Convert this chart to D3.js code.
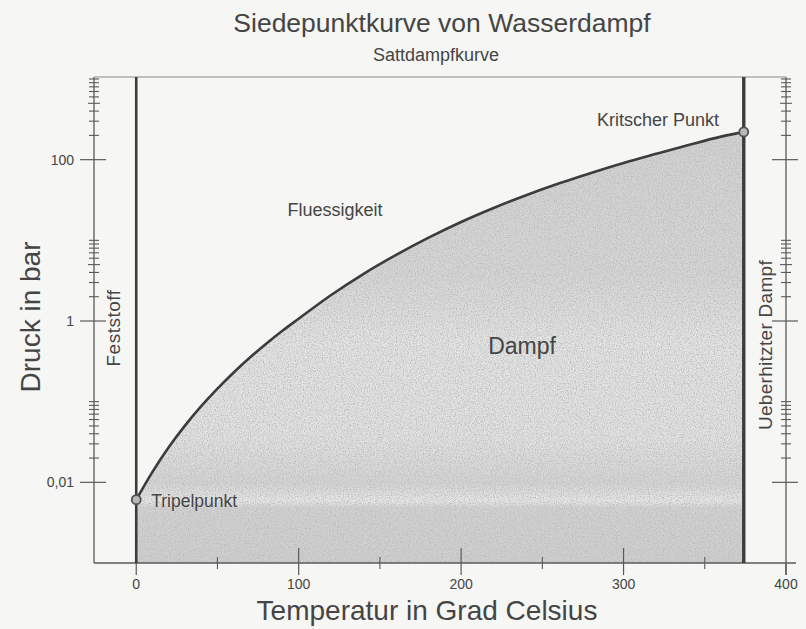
<!DOCTYPE html>
<html>
<head>
<meta charset="utf-8">
<script src="https://cdn.jsdelivr.net/npm/d3@7"></script>
<style>
  html, body { margin: 0; padding: 0; background: #f6f6f4; }
  svg { display: block; font-family: "Liberation Sans", Arial, Helvetica, sans-serif; }
</style>
</head>
<body>
<svg width="806" height="629"></svg>
<script>
// data
var temps = [0, 10, 20, 30, 40, 50, 60, 70, 80, 90, 100, 120, 140, 160, 180, 200, 220, 240, 260, 280, 300, 320, 340, 360, 374];
var pressures = [0.0061, 0.0135, 0.0272, 0.0505, 0.0878, 0.145, 0.23, 0.352, 0.523, 0.756, 1.067, 2.1, 3.85, 6.6, 10.8, 16.9, 25.2, 36.2, 50.5, 68.5, 91, 118, 152, 193, 221];
var xTicksMajor = [0, 100, 200, 300, 400];
var xTicksMinor = [50, 150, 250, 350];
var yTicksMajor = [100, 1, 0.01];
var yTickLabels = ["100", "1", "0,01"];
var minorDecades = [0.01, 1, 100];
var triplePoint = {t: 0, p: 0.0061};
var criticalPoint = {t: 374, p: 221};

var svg = d3.select("svg"),
    ink = "#454545";

var x = d3.scaleLinear().domain([-26, 400]).range([94, 786]);
var y = d3.scaleLog().domain([0.001, 1000]).range([563, 79]);

// grainy scan-like fill
var defs = svg.append("defs");
var grad = defs.append("linearGradient")
    .attr("id", "shade").attr("gradientUnits", "userSpaceOnUse")
    .attr("x1", 0).attr("y1", 120).attr("x2", 0).attr("y2", 563);
[[0, "#d2d2d2"], [0.35, "#d6d6d6"], [0.5, "#e4e4e4"], [0.72, "#e2e2e2"], [0.82, "#d4d4d4"], [0.86, "#e8e8e8"], [0.875, "#d2d2d2"], [1, "#cfcfcf"]]
  .forEach(function(s) { grad.append("stop").attr("offset", s[0]).attr("stop-color", s[1]); });

var f = defs.append("filter").attr("id", "grain").attr("x", 0).attr("y", 0).attr("width", 1).attr("height", 1);
f.append("feTurbulence").attr("type", "fractalNoise").attr("baseFrequency", 0.85).attr("numOctaves", 2).attr("seed", 4).attr("result", "noise");
f.append("feColorMatrix").attr("in", "noise").attr("type", "matrix")
  .attr("values", "0 0 0 0 0.5  0 0 0 0 0.5  0 0 0 0 0.5  2.4 0 0 0 -0.95").attr("result", "dots");
f.append("feComposite").attr("in", "dots").attr("in2", "SourceGraphic").attr("operator", "in").attr("result", "clipped");
var merge = f.append("feMerge");
merge.append("feMergeNode").attr("in", "SourceGraphic");
merge.append("feMergeNode").attr("in", "clipped");

var pts = temps.map(function(t, i) { return [t, pressures[i]]; });

// vapour area under the curve
var area = d3.area()
    .x(function(d) { return x(d[0]); })
    .y0(y(0.001))
    .y1(function(d) { return y(d[1]); })
    .curve(d3.curveMonotoneX);

svg.append("path")
    .datum(pts)
    .attr("d", area)
    .attr("fill", "url(#shade)")
    .attr("filter", "url(#grain)");

// frame
var axisColor = "#5a5a5a";
svg.append("line").attr("x1", x(-26)).attr("x2", x(-26)).attr("y1", y(1000) - 2).attr("y2", y(0.001))
    .attr("stroke", axisColor).attr("stroke-width", 1.3);
svg.append("line").attr("x1", x(400)).attr("x2", x(400)).attr("y1", y(1000) - 2).attr("y2", y(0.001) + 12)
    .attr("stroke", axisColor).attr("stroke-width", 1.3);
svg.append("line").attr("x1", x(-26)).attr("x2", x(400) + 10).attr("y1", y(0.001)).attr("y2", y(0.001))
    .attr("stroke", axisColor).attr("stroke-width", 1.3);
svg.append("line").attr("x1", x(-26)).attr("x2", x(400)).attr("y1", y(1000) - 2).attr("y2", y(1000) - 2)
    .attr("stroke", "#8a8a8a").attr("stroke-width", 1);

// y ticks on both sides
var minorVals = [];
minorDecades.forEach(function(b) {
  d3.range(2, 11).forEach(function(k) { minorVals.push(b * k); });
});

[x(-26), x(400)].forEach(function(ax) {
  svg.append("g").selectAll("line")
    .data(minorVals)
    .enter().append("line")
      .attr("x1", function(d) { return ax - (String(d).indexOf("5") === 0 ? 6 : 5); })
      .attr("x2", function(d) { return ax + (String(d).indexOf("5") === 0 ? 6 : 5); })
      .attr("y1", function(d) { return y(d); })
      .attr("y2", function(d) { return y(d); })
      .attr("stroke", axisColor).attr("stroke-width", 1.1);

  svg.append("g").selectAll("line")
    .data(yTicksMajor)
    .enter().append("line")
      .attr("x1", ax - 14).attr("x2", ax + 12)
      .attr("y1", function(d) { return y(d); })
      .attr("y2", function(d) { return y(d); })
      .attr("stroke", axisColor).attr("stroke-width", 1.2);
});

svg.append("g").selectAll("text")
  .data(yTicksMajor)
  .enter().append("text")
    .attr("x", x(-26) - 20)
    .attr("y", function(d) { return y(d) + 5; })
    .attr("text-anchor", "end")
    .attr("font-size", 14)
    .attr("fill", ink)
    .text(function(d, i) { return yTickLabels[i]; });

// x ticks
svg.append("g").selectAll("line")
  .data(xTicksMajor)
  .enter().append("line")
    .attr("x1", function(d) { return x(d); })
    .attr("x2", function(d) { return x(d); })
    .attr("y1", function(d) { return d === 0 || d === 400 ? y(0.001) : y(0.001) - 15; })
    .attr("y2", y(0.001) + 12)
    .attr("stroke", axisColor).attr("stroke-width", 1.2);

svg.append("g").selectAll("line")
  .data(xTicksMinor)
  .enter().append("line")
    .attr("x1", function(d) { return x(d); })
    .attr("x2", function(d) { return x(d); })
    .attr("y1", y(0.001) - 6)
    .attr("y2", y(0.001) + 6)
    .attr("stroke", axisColor).attr("stroke-width", 1.1);

svg.append("g").selectAll("text")
  .data(xTicksMajor)
  .enter().append("text")
    .attr("x", function(d) { return x(d); })
    .attr("y", 589)
    .attr("text-anchor", "middle")
    .attr("font-size", 14)
    .attr("fill", ink)
    .text(function(d) { return d; });

// phase borders
svg.append("line")
    .attr("x1", x(0)).attr("x2", x(0))
    .attr("y1", y(1000) - 2).attr("y2", y(0.001))
    .attr("stroke", "#3c3c3c").attr("stroke-width", 2.6);
svg.append("line")
    .attr("x1", x(criticalPoint.t)).attr("x2", x(criticalPoint.t))
    .attr("y1", y(1000) - 2).attr("y2", y(0.001))
    .attr("stroke", "#3c3c3c").attr("stroke-width", 3.4);

var line = d3.line()
    .x(function(d) { return x(d[0]); })
    .y(function(d) { return y(d[1]); })
    .curve(d3.curveMonotoneX);

svg.append("path")
    .datum(pts)
    .attr("d", line)
    .attr("fill", "none")
    .attr("stroke", "#3c3c3c")
    .attr("stroke-width", 2.6);

svg.selectAll("circle.pt")
  .data([triplePoint, criticalPoint])
  .enter().append("circle")
    .attr("class", "pt")
    .attr("cx", function(d) { return x(d.t); })
    .attr("cy", function(d) { return y(d.p); })
    .attr("r", 4.5)
    .attr("fill", "#b8b8b8")
    .attr("stroke", "#505050")
    .attr("stroke-width", 1.8);

// texts
function label(txt, px, py, size, rot, anchor) {
  var t = svg.append("text")
    .attr("x", px).attr("y", py)
    .attr("font-size", size)
    .attr("fill", ink)
    .attr("text-anchor", anchor || "middle")
    .text(txt);
  if (rot) t.attr("transform", "rotate(" + rot + "," + px + "," + py + ")");
  return t;
}

label("Siedepunktkurve von Wasserdampf", 442, 32, 26.5);
label("Sattdampfkurve", 436, 61, 18);
label("Temperatur in Grad Celsius", 427, 620, 28);
label("Druck in bar", 40, 317, 28, -90);

label("Fluessigkeit", 335, 216, 18);
label("Dampf", 522, 354, 23);
label("Kritscher Punkt", 658, 126, 18);
label("Tripelpunkt", x(triplePoint.t) + 15, y(triplePoint.p) + 7, 17.5, 0, "start");
label("Feststoff", 120, 328, 19, -90).attr("letter-spacing", 0.5);
label("Ueberhitzter Dampf", 772, 345, 19, -90).attr("letter-spacing", 0.3);
</script>
</body>
</html>
